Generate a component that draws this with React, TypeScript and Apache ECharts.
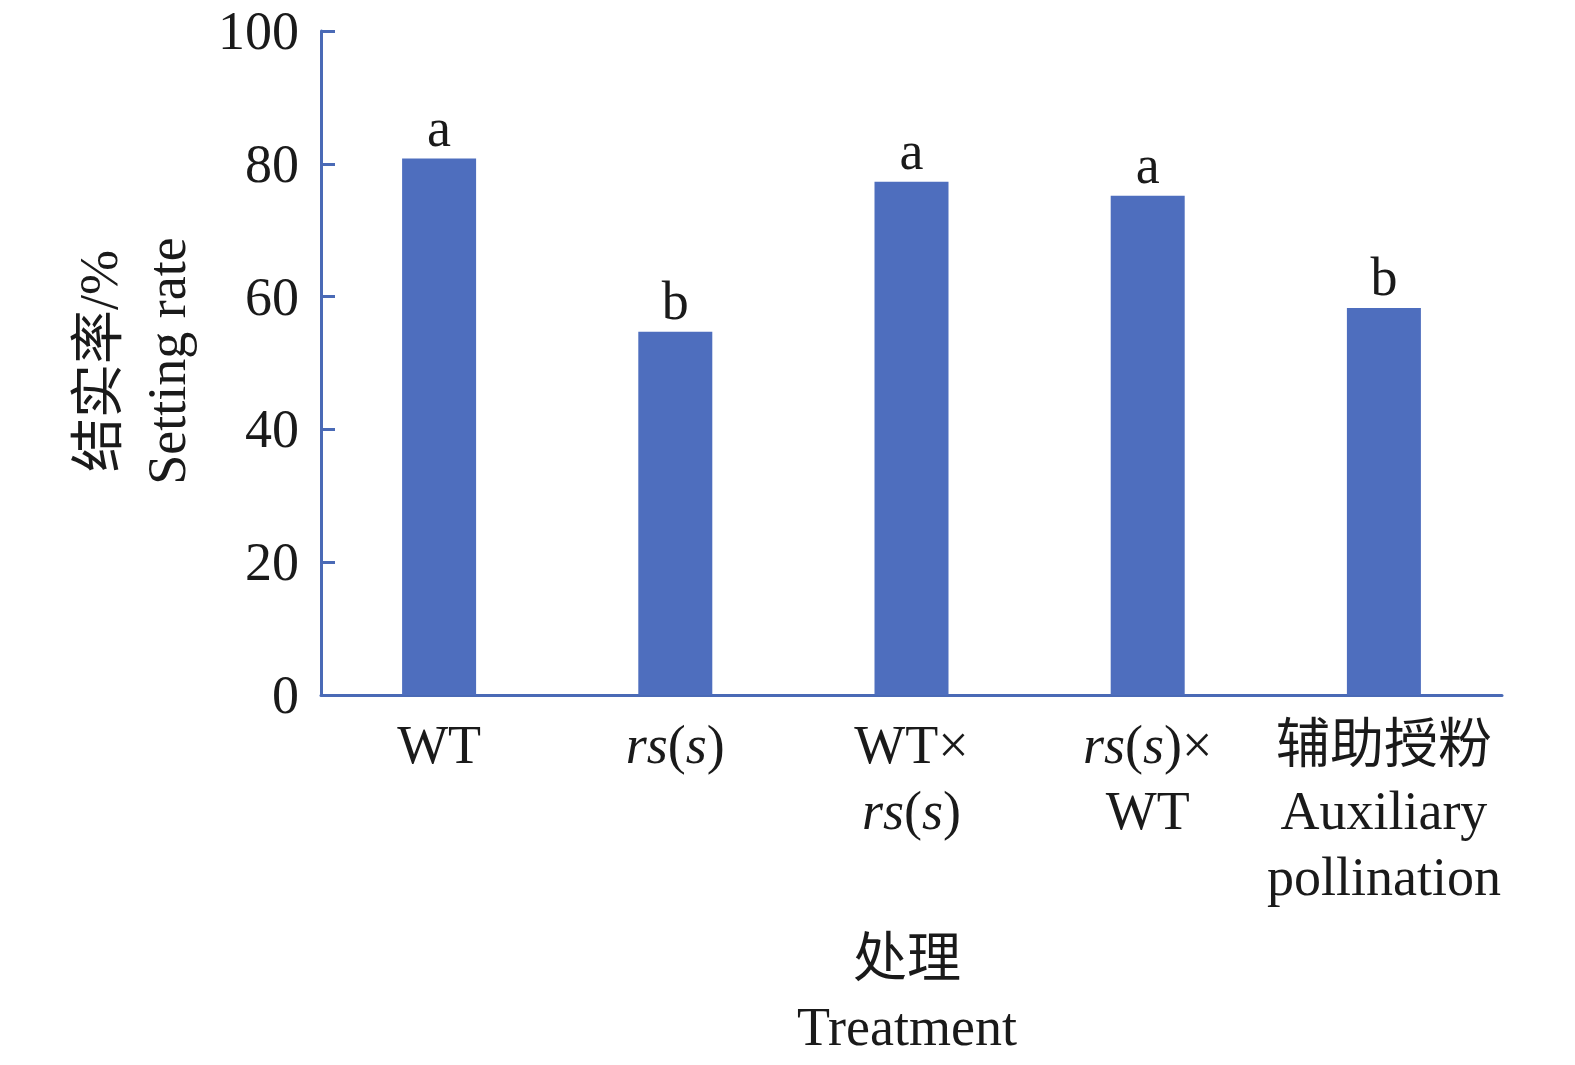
import React, { useEffect, useRef } from "react";
import * as echarts from "echarts";

const categories = ["WT", "rs(s)", "WT×rs(s)", "rs(s)×WT", "辅助授粉 Auxiliary pollination"];
const categoryLabels = [
  "WT",
  "{i|rs}({i|s})",
  "WT×\n{i|rs}({i|s})",
  "{i|rs}({i|s})×\nWT",
  "辅助授粉\nAuxiliary\npollination",
];
const settingRate = [80.8, 54.7, 77.3, 75.2, 58.3];
const letters = ["a", "b", "a", "a", "b"];
const yTicks = [0, 20, 40, 60, 80, 100];

const FONT = "'Liberation Serif', 'Times New Roman', 'Noto Sans CJK SC', serif";
const BAR = "#4e6ebe";
const AXIS = "#4a6ab6";
const FS = 54;

export default function App() {
  const ref = useRef<HTMLDivElement>(null);
  useEffect(() => {
    if (!ref.current) return;
    const chart = echarts.init(ref.current, undefined, { renderer: "svg" });
    chart.setOption({
      animation: false,
      backgroundColor: "#ffffff",
      grid: { left: 321, right: 73, top: 31, bottom: 370, containLabel: false },
      xAxis: {
        type: "category",
        data: categories,
        axisLine: { show: true, lineStyle: { color: AXIS, width: 3 } },
        axisTick: { show: false },
        axisLabel: {
          interval: 0,
          margin: 17,
          formatter: (_v: string, idx: number) => categoryLabels[idx],
          fontFamily: FONT,
          fontSize: FS,
          lineHeight: 66,
          color: "#1a1a1a",
          rich: {
            i: { fontFamily: FONT, fontStyle: "italic", fontSize: FS, lineHeight: 66, color: "#1a1a1a" },
          },
        },
      },
      yAxis: {
        type: "value",
        min: yTicks[0],
        max: yTicks[yTicks.length - 1],
        interval: 20,
        splitLine: { show: false },
        axisLine: { show: true, lineStyle: { color: AXIS, width: 3 } },
        axisTick: { show: true, inside: true, length: 14, lineStyle: { color: AXIS, width: 3 } },
        axisLabel: { margin: 22, fontFamily: FONT, fontSize: FS, color: "#1a1a1a" },
      },
      series: [
        {
          type: "bar",
          data: settingRate,
          barWidth: 74,
          itemStyle: { color: BAR },
          label: {
            show: true,
            position: "top",
            distance: 4,
            formatter: (p: any) => letters[p.dataIndex],
            fontFamily: FONT,
            fontSize: FS,
            color: "#1a1a1a",
          },
        },
      ],
      graphic: [
        {
          type: "text",
          x: 133,
          y: 361,
          rotation: Math.PI / 2,
          style: {
            text: "结实率/%\nSetting rate",
            align: "center",
            verticalAlign: "middle",
            fontFamily: FONT,
            fontSize: FS,
            lineHeight: 68,
            fill: "#1a1a1a",
          },
        },
        {
          type: "text",
          x: 907,
          y: 993,
          style: {
            text: "处理\nTreatment",
            align: "center",
            verticalAlign: "middle",
            fontFamily: FONT,
            fontSize: FS,
            lineHeight: 68,
            fill: "#1a1a1a",
          },
        },
      ],
    });
    return () => chart.dispose();
  }, []);
  return (
    <div
      ref={ref}
      style={{ position: "fixed", left: 0, top: 0, width: 1575, height: 1065 }}
    />
  );
}
